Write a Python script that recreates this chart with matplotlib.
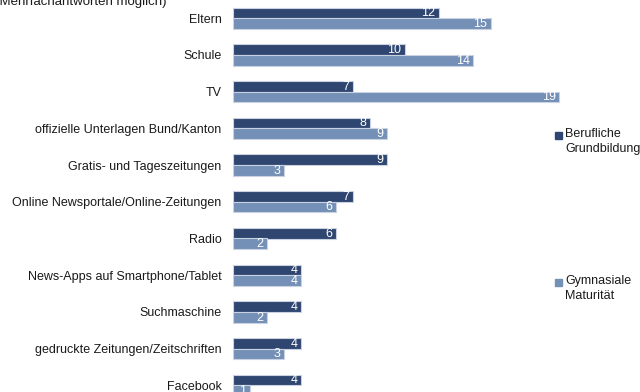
import matplotlib
matplotlib.use("Agg")
import matplotlib.pyplot as plt
import numpy as np

plt.rcParams['font.family'] = ['Liberation Sans', 'DejaVu Sans']

categories = [
    "Eltern",
    "Schule",
    "TV",
    "offizielle Unterlagen Bund/Kanton",
    "Gratis- und Tageszeitungen",
    "Online Newsportale/Online-Zeitungen",
    "Radio",
    "News-Apps auf Smartphone/Tablet",
    "Suchmaschine",
    "gedruckte Zeitungen/Zeitschriften",
    "Facebook",
]
berufliche = [12, 10, 7, 8, 9, 7, 6, 4, 4, 4, 4]
gymnasiale = [15, 14, 19, 9, 3, 6, 2, 4, 2, 3, 1]
series_names = ["Berufliche\nGrundbildung", "Gymnasiale\nMaturität"]

dark = "#2f4670"
light = "#7490b6"
edge = "#c9d2e3"
txt = "#1a1a1a"
fs = 9

W, H = 640, 392
fig = plt.figure(figsize=(W / 100, H / 100), dpi=100)

# axes spans slightly beyond the bottom of the canvas
x0_px, unit_px = 232.5, 17.2
row0_px, row_px = 18.3, 36.7
top_px = row0_px - 0.5 * row_px
bot_px = row0_px + 10.5 * row_px
ax = fig.add_axes([x0_px / W, 1 - bot_px / H, 20 * unit_px / W, (bot_px - top_px) / H])

y = np.arange(len(categories))
h = 0.29
ax.barh(y - h / 2, berufliche, height=h, color=dark, edgecolor=edge, linewidth=0.8)
ax.barh(y + h / 2, gymnasiale, height=h, color=light, edgecolor=edge, linewidth=0.8)

for yi, v in zip(y, berufliche):
    ax.text(v - 0.2, yi - h / 2 + 0.01, str(v), color="white", fontsize=fs,
            ha="right", va="center")
for yi, v in zip(y, gymnasiale):
    ax.text(v - 0.2, yi + h / 2 + 0.01, str(v), color="white", fontsize=fs,
            ha="right", va="center")

ax.set_xlim(0, 20)
ax.set_ylim(len(categories) - 0.5, -0.5)
ax.set_yticks(y)
ax.set_yticklabels(categories, fontsize=fs, color=txt)
ax.tick_params(axis="y", length=0, pad=8)
ax.set_xticks([])
for s in ax.spines.values():
    s.set_visible(False)

# legend entries
leg_x = 555 / W
for name, col, ypx in [(series_names[0], dark, 132), (series_names[1], light, 279)]:
    fig.patches.append(plt.Rectangle((leg_x, 1 - (ypx + 7) / H), 7 / W, 7 / H,
                                     transform=fig.transFigure, color=col))
    fig.text(leg_x + 10 / W, 1 - (ypx - 4) / H, name, fontsize=fs, color=txt,
             ha="left", va="top", linespacing=1.3)

fig.text(-5 / W, 1 - 5 / H, "(Mehrfachantworten möglich)", fontsize=9.5,
         color=txt, ha="left", va="baseline")

fig.savefig("out.png", dpi=100)
